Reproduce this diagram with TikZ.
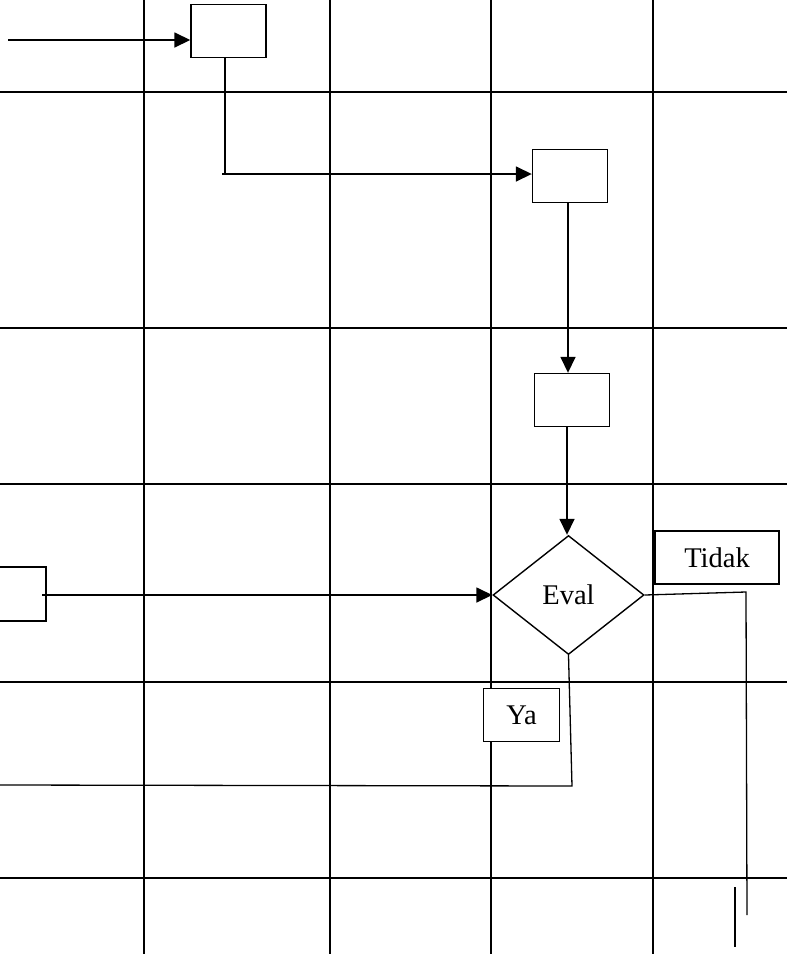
\documentclass[tikz,border=0pt]{standalone}
\usepackage{fontspec}
\setmainfont{Liberation Serif}
\usetikzlibrary{arrows.meta,shapes.geometric}
\begin{document}
\begin{tikzpicture}[x=1pt,y=-1pt,
  gridline/.style={line width=1.6pt},
  conn/.style={line width=1.6pt},
  thinconn/.style={line width=1.3pt},
  arr/.style={-{Triangle[length=16pt,width=15pt]}},
  boxnode/.style={draw,line width=1.4pt,fill=white,minimum width=75pt,minimum height=53pt,inner sep=0pt},
  labelbox/.style={draw,line width=1.4pt,fill=white,inner sep=0pt,font=\fontsize{28.5}{34}\selectfont},
  decision/.style={draw,diamond,line width=1.4pt,fill=white,minimum width=151pt,minimum height=119pt,inner sep=0pt,font=\fontsize{28.5}{34}\selectfont}]
\useasboundingbox (0,0) rectangle (787,954);
\fill[white] (0,0) rectangle (787,954);
% grid
\foreach \gx in {144,330,491,653} \draw[gridline] (\gx,0) -- (\gx,954);
\foreach \gy in {92,328,484,682,878} \draw[gridline] (0,\gy) -- (787,\gy);
% nodes
\node[boxnode] (b1) at (228.5,31) {};
\node[boxnode] (b2) at (570,176) {};
\node[boxnode] (b3) at (572,400) {};
\node[boxnode,minimum height=54pt] (b0) at (8.5,594) {};
\node[decision] (dv) at (568.5,595) {Eval};
\node[labelbox,minimum width=124pt,minimum height=53pt] (tdk) at (717,557.5) {Tidak};
\node[labelbox,minimum width=76pt,minimum height=53pt] (ya) at (521.5,715) {Ya};
% coordinates
\coordinate (s1) at (8,40);
\coordinate (c1) at (225,174);
\coordinate (c0) at (222,174);
\coordinate (t1) at (746,592);
\coordinate (t2) at (747,915);
\coordinate (u1) at (735,887);
\coordinate (u2) at (735,947);
\coordinate (y1) at (572,786);
\coordinate (y2) at (0,785);
% connectors
\draw[conn,arr] (s1) -- (s1 -| b1.west);
\draw[conn] (b1.south -| c1) -- (c1);
\draw[conn,arr] (c0) -- (c0 -| b2.west);
\draw[conn,arr] (b2.south -| 568,0) -- (b3.north -| 568,0);
\draw[conn,arr] (b3.south -| 567,0) -- (dv.north -| 567,0);
\draw[conn,arr] (42,595) -- (dv.west);
\draw[thinconn] (dv.east) -- (t1) -- (t2);
\draw[thinconn] (u1) -- (u2);
\draw[thinconn] (dv.south) -- (y1) -- (y2);
\end{tikzpicture}
\end{document}
